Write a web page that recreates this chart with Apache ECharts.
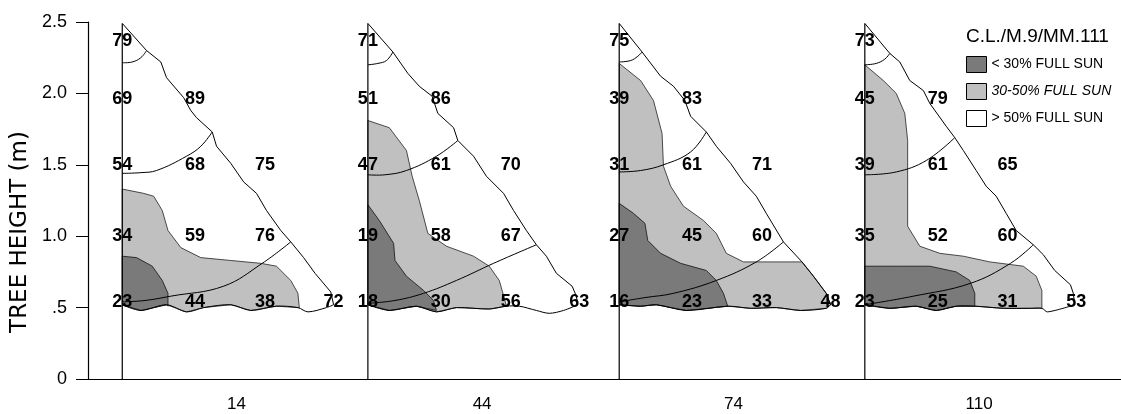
<!DOCTYPE html>
<html><head><meta charset="utf-8">
<script src="https://cdn.jsdelivr.net/npm/echarts@6/dist/echarts.min.js"></script>
<style>html,body{margin:0;padding:0;background:#fff}#c{width:1121px;height:414px}</style>
</head><body><div id="c"></div>
<script>
// ---------- DATA (metres; x = distance from trunk, y = height) ----------
const ages = ['14', '44', '74', '110'];
const yTicks = [0, 0.5, 1.0, 1.5, 2.0, 2.5];
const rowHeights = [2.37, 1.96, 1.50, 1.00, 0.54];
const colDistances = [0, 0.51, 1.00, 1.48];

// % full sun readings, rows top->bottom, columns trunk->outside
const light14  = [[79], [69, 89], [54, 68, 75], [34, 59, 76], [23, 44, 38, 72]];
const light44  = [[71], [51, 86], [47, 61, 70], [19, 58, 67], [18, 30, 56, 63]];
const light74  = [[75], [39, 83], [31, 61, 71], [27, 45, 60], [16, 23, 33, 48]];
const light110 = [[73], [45, 79], [39, 61, 65], [35, 52, 60], [23, 25, 31, 53]];

// canopy outline (apex -> lower tip)
const outline14 = [[0,2.49],[0.17,2.30],[0.27,2.22],[0.31,2.11],[0.43,1.97],[0.48,1.88],[0.52,1.83],[0.63,1.73],[0.66,1.63],[0.76,1.51],[0.85,1.38],[0.94,1.30],[1.01,1.18],[1.11,1.04],[1.18,0.96],[1.27,0.85],[1.35,0.74],[1.46,0.61],[1.48,0.52]];
const outline44 = [[0,2.49],[0.175,2.29],[0.28,2.14],[0.36,2.05],[0.45,1.98],[0.49,1.86],[0.60,1.76],[0.63,1.67],[0.74,1.56],[0.83,1.42],[0.95,1.30],[1.02,1.18],[1.11,1.04],[1.18,0.94],[1.25,0.86],[1.32,0.74],[1.43,0.65],[1.46,0.58],[1.47,0.52]];
const outline74 = [[0,2.49],[0.16,2.29],[0.29,2.12],[0.38,2.05],[0.46,1.95],[0.50,1.84],[0.61,1.73],[0.68,1.63],[0.78,1.51],[0.87,1.38],[0.96,1.28],[1.03,1.16],[1.15,0.96],[1.28,0.82],[1.36,0.72],[1.45,0.60],[1.48,0.52]];
const outline110 = [[0,2.49],[0.175,2.28],[0.245,2.22],[0.315,2.09],[0.41,2.02],[0.455,1.93],[0.57,1.77],[0.63,1.69],[0.69,1.60],[0.78,1.46],[0.85,1.35],[0.92,1.28],[0.99,1.16],[1.06,1.04],[1.18,0.94],[1.25,0.87],[1.33,0.76],[1.44,0.66],[1.46,0.60],[1.47,0.52]];

// wavy canopy base (trunk -> tip)
const base14 = [[0,0.52],[0.13,0.48],[0.31,0.52],[0.45,0.47],[0.57,0.50],[0.76,0.52],[0.90,0.48],[1.08,0.51],[1.23,0.50],[1.30,0.47],[1.43,0.50],[1.48,0.52]];
const base44 = [[0,0.52],[0.15,0.48],[0.34,0.51],[0.48,0.47],[0.62,0.50],[0.85,0.49],[0.97,0.51],[1.06,0.51],[1.18,0.48],[1.27,0.46],[1.37,0.48],[1.47,0.52]];
const base74 = [[0,0.52],[0.15,0.51],[0.26,0.52],[0.47,0.48],[0.76,0.51],[0.92,0.495],[1.10,0.50],[1.27,0.48],[1.45,0.495],[1.48,0.52]];
const base110 = [[0,0.52],[0.175,0.495],[0.36,0.51],[0.50,0.48],[0.64,0.51],[0.77,0.51],[0.97,0.495],[1.16,0.495],[1.24,0.495],[1.28,0.47],[1.47,0.52]];

// sampling-zone arcs
const arcs14 = [[[0,2.215],[0.07,2.22],[0.13,2.25],[0.17,2.30]], [[0,1.44],[0.13,1.445],[0.24,1.46],[0.45,1.56],[0.55,1.63],[0.63,1.73]], [[0,0.54],[0.16,0.55],[0.34,0.58],[0.71,0.65],[0.98,0.81],[1.18,0.96]]];
const arcs44 = [[[0,2.20],[0.07,2.21],[0.13,2.23],[0.175,2.29]], [[0,1.43],[0.12,1.43],[0.27,1.46],[0.48,1.56],[0.63,1.67]], [[0,0.53],[0.19,0.55],[0.39,0.60],[0.62,0.69],[0.88,0.81],[1.18,0.94]]];
const arcs74 = [[[0,2.22],[0.08,2.23],[0.13,2.26],[0.16,2.29]], [[0,1.45],[0.15,1.46],[0.31,1.50],[0.50,1.59],[0.61,1.73]], [[0,0.54],[0.18,0.57],[0.38,0.60],[0.68,0.69],[0.96,0.82],[1.15,0.96]]];
const arcs110 = [[[0,2.20],[0.08,2.21],[0.14,2.24],[0.175,2.28]], [[0,1.43],[0.22,1.45],[0.43,1.53],[0.63,1.69]], [[0,0.52],[0.34,0.58],[0.74,0.67],[1.02,0.81],[1.18,0.94]]];

// 30-50% full sun zone upper boundary (trunk -> base)
const mid14 = [[0,1.33],[0.15,1.30],[0.22,1.28],[0.28,1.18],[0.32,1.04],[0.41,0.92],[0.55,0.85],[0.76,0.83],[0.97,0.81],[1.08,0.79],[1.18,0.69],[1.23,0.60],[1.24,0.50]];
const mid44 = [[0,1.81],[0.15,1.76],[0.27,1.60],[0.31,1.42],[0.36,1.25],[0.42,1.02],[0.55,0.93],[0.74,0.86],[0.85,0.79],[0.92,0.69],[0.96,0.55],[0.97,0.51]];
const mid74 = [[0,2.21],[0.15,2.09],[0.24,1.95],[0.30,1.72],[0.31,1.49],[0.36,1.35],[0.45,1.21],[0.59,1.11],[0.68,1.02],[0.75,0.88],[0.87,0.82],[1.28,0.82],[1.36,0.72],[1.45,0.60],[1.48,0.52]];
const mid110 = [[0,2.20],[0.13,2.09],[0.22,2.00],[0.28,1.86],[0.30,1.67],[0.30,1.35],[0.30,1.07],[0.385,0.93],[0.525,0.88],[0.69,0.86],[0.875,0.82],[1.11,0.79],[1.20,0.72],[1.24,0.62],[1.24,0.495]];

// <30% full sun zone upper boundary (trunk -> base)
const dark14 = [[0,0.86],[0.10,0.85],[0.21,0.79],[0.28,0.69],[0.32,0.60],[0.32,0.51]];
const dark44 = [[0,1.22],[0.08,1.11],[0.18,0.95],[0.19,0.83],[0.27,0.72],[0.39,0.62],[0.46,0.55],[0.48,0.48]];
const dark74 = [[0,1.23],[0.10,1.16],[0.18,1.09],[0.20,0.97],[0.29,0.88],[0.43,0.81],[0.61,0.76],[0.68,0.69],[0.73,0.60],[0.76,0.51]];
const dark110 = [[0,0.79],[0.22,0.79],[0.455,0.79],[0.64,0.75],[0.735,0.69],[0.77,0.60],[0.77,0.51]];

const seriesNames = ['< 30% FULL SUN', '30-50% FULL SUN', '> 50% FULL SUN'];

// ---------- LAYOUT ----------
const TRUNK_X = [0.24, 1.96, 3.72, 5.44];   // where each tree is drawn along the x axis
const LABEL_OFFSET = 0.80;
const X_MAX = 7.234;
const COL_DARK = '#7a7a7a', COL_MID = '#c0c0c0';

const trees = [
  {outline: outline14, base: base14, arcs: arcs14, mid: mid14, dark: dark14, light: light14},
  {outline: outline44, base: base44, arcs: arcs44, mid: mid44, dark: dark44, light: light44},
  {outline: outline74, base: base74, arcs: arcs74, mid: mid74, dark: dark74, light: light74},
  {outline: outline110, base: base110, arcs: arcs110, mid: mid110, dark: dark110, light: light110}
];

function closeOnBase(edge, base) {
  const end = edge[edge.length - 1][0];
  const back = base.filter(p => p[0] > 0 && p[0] < end - 1e-6).reverse();
  return edge.concat(back, [base[0]]);
}
const canopyPolys = trees.map(t => t.outline.concat(t.base.slice(0, -1).reverse()));
const midPolys = trees.map(t => closeOnBase(t.mid, t.base));
const darkPolys = trees.map(t => closeOnBase(t.dark, t.base));

function fillSeries(name, polys, fill, stroke, lw, z) {
  return {
    type: 'custom', name: name, z: z, silent: true, animation: false,
    itemStyle: {color: fill, borderColor: '#000', borderWidth: 1},
    data: polys.map((p, i) => [TRUNK_X[i], 0]),
    encode: {x: 0, y: 1},
    renderItem: function (params, api) {
      const i = params.dataIndex;
      const pts = polys[i].map(p => api.coord([TRUNK_X[i] + p[0], p[1]]));
      return {type: 'polygon', shape: {points: pts}, style: {fill: fill, stroke: stroke, lineWidth: lw}};
    }
  };
}

const lineSeries = {
  type: 'custom', z: 10, silent: true, animation: false,
  data: trees.map((t, i) => [TRUNK_X[i], 0]),
  encode: {x: 0, y: 1},
  renderItem: function (params, api) {
    const i = params.dataIndex, t = trees[i], x0 = TRUNK_X[i];
    const conv = pts => pts.map(p => api.coord([x0 + p[0], p[1]]));
    const ls = {fill: 'none', stroke: '#000', lineWidth: 1};
    const children = [];
    children.push({type: 'polyline', shape: {points: conv([[0, 0], t.outline[0]])}, style: Object.assign({}, ls, {lineWidth: 1.2})});
    children.push({type: 'polyline', shape: {points: conv(t.outline)}, style: ls});
    children.push({type: 'polyline', shape: {points: conv(t.base), smooth: 0.3}, style: ls});
    t.arcs.forEach(a => children.push({type: 'polyline', shape: {points: conv(a), smooth: 0.4}, style: ls}));
    return {type: 'group', children: children};
  }
};

const labelSeries = {
  type: 'custom', z: 20, silent: true, animation: false,
  data: trees.map((t, i) => [TRUNK_X[i], 0]),
  encode: {x: 0, y: 1},
  renderItem: function (params, api) {
    const i = params.dataIndex, t = trees[i], x0 = TRUNK_X[i];
    const children = [];
    t.light.forEach((row, r) => row.forEach((v, c) => {
      const p = api.coord([x0 + colDistances[c], rowHeights[r]]);
      children.push({type: 'text', x: p[0], y: p[1],
        style: {text: String(v), font: 'bold 18px "Liberation Sans", Arial, sans-serif', fill: '#000',
                align: 'center', verticalAlign: 'middle', textAlign: 'center', textVerticalAlign: 'middle'}});
    }));
    return {type: 'group', children: children};
  }
};

const labelPositions = TRUNK_X.map(x => +(x + LABEL_OFFSET).toFixed(3));

const option = {
  backgroundColor: '#fff',
  animation: false,
  grid: {left: 88, right: 0, top: 22, bottom: 35, containLabel: false},
  title: {text: 'C.L./M.9/MM.111', left: 966, top: 27, padding: 0,
    textStyle: {fontSize: 19, fontWeight: 'normal', fontFamily: 'Liberation Sans', color: '#000'}},
  legend: {
    orient: 'vertical', left: 966, top: 56, padding: 0, itemWidth: 20, itemHeight: 16, itemGap: 10,
    icon: 'rect', selectedMode: false,
    textStyle: {fontSize: 14, fontFamily: 'Liberation Sans', color: '#000'},
    data: [
      {name: seriesNames[0], itemStyle: {color: COL_DARK, borderColor: '#000', borderWidth: 1}},
      {name: seriesNames[1], itemStyle: {color: COL_MID, borderColor: '#000', borderWidth: 1}, textStyle: {fontStyle: 'italic'}},
      {name: seriesNames[2], itemStyle: {color: '#fff', borderColor: '#000', borderWidth: 1}}
    ]
  },
  graphic: [{type: 'text', x: 20, y: 232, rotation: Math.PI / 2,
    style: {text: 'TREE HEIGHT (m)', font: '23px "DejaVu Sans", sans-serif', fill: '#000',
            align: 'center', verticalAlign: 'middle', textAlign: 'center', textVerticalAlign: 'middle'}}],
  xAxis: {
    type: 'value', min: 0, max: X_MAX,
    axisLine: {show: true, lineStyle: {color: '#000', width: 1.2}},
    axisTick: {show: false},
    splitLine: {show: false},
    axisLabel: {
      customValues: labelPositions,
      margin: 17, fontSize: 17, fontFamily: 'Liberation Sans', color: '#000',
      formatter: function (v) {
        let best = 0;
        labelPositions.forEach((p, k) => { if (Math.abs(p - v) < Math.abs(labelPositions[best] - v)) best = k; });
        return ages[best];
      }
    }
  },
  yAxis: {
    type: 'value', min: 0, max: 2.5, interval: 0.5,
    axisLine: {show: true, lineStyle: {color: '#000', width: 1.2}},
    axisTick: {show: true, length: 12, lineStyle: {color: '#000'}},
    splitLine: {show: false},
    axisLabel: {
      margin: 21, fontSize: 18, fontFamily: 'Liberation Sans', color: '#000',
      formatter: function (v) {
        const t = yTicks.find(k => Math.abs(k - v) < 1e-6);
        if (t === 0) return '0';
        if (t === 0.5) return '.5';
        return t.toFixed(1);
      }
    }
  },
  series: [
    fillSeries(seriesNames[2], canopyPolys, '#fff', 'none', 0, 1),
    fillSeries(seriesNames[1], midPolys, COL_MID, '#222', 0.8, 2),
    fillSeries(seriesNames[0], darkPolys, COL_DARK, '#111', 0.8, 3),
    lineSeries,
    labelSeries
  ]
};

const chart = echarts.init(document.getElementById('c'), null, {renderer: 'canvas'});
chart.setOption(option);
</script></body></html>
